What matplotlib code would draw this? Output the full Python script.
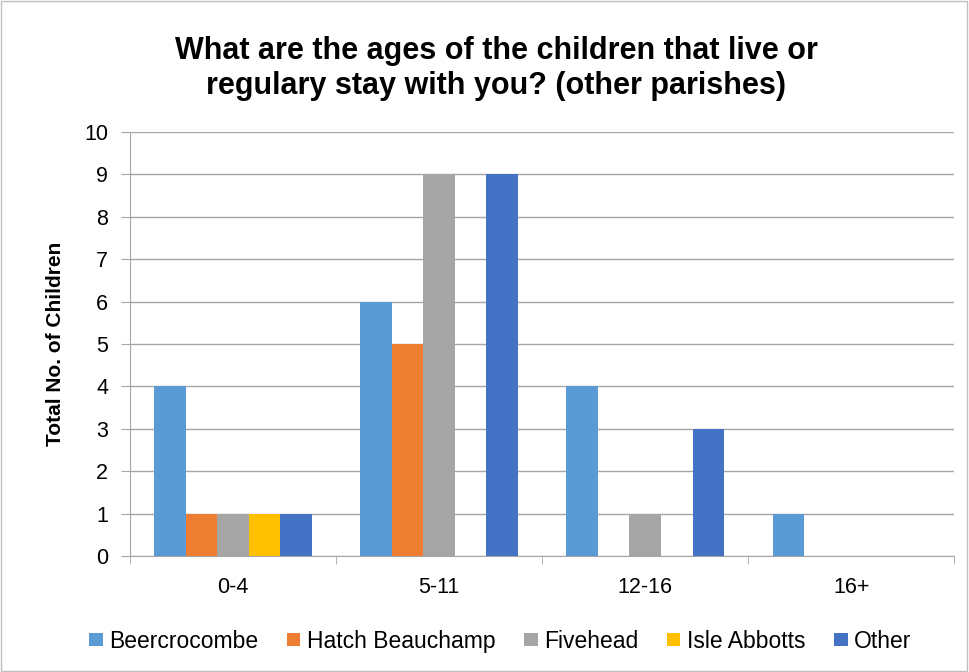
import numpy as np
import matplotlib.pyplot as plt
from matplotlib.patches import Rectangle

plt.rcParams['font.family'] = ['Liberation Sans', 'DejaVu Sans']

categories = ['0-4', '5-11', '12-16', '16+']
parishes = ['Beercrocombe', 'Hatch Beauchamp', 'Fivehead', 'Isle Abbotts', 'Other']
beercrocombe = [4, 6, 4, 1]
hatch_beauchamp = [1, 5, 0, 0]
fivehead = [1, 9, 1, 0]
isle_abbotts = [1, 0, 0, 0]
other = [1, 9, 3, 0]

series = [beercrocombe, hatch_beauchamp, fivehead, isle_abbotts, other]
colors = ['#5B9BD5', '#ED7D31', '#A5A5A5', '#FFC000', '#4472C4']

fig = plt.figure(figsize=(9.69, 6.72), dpi=100)
ax = fig.add_axes([0.134, 0.1726, 0.851, 0.631])

x = np.arange(len(categories))
w = 0.153
for i, (vals, c, name) in enumerate(zip(series, colors, parishes)):
    ax.bar(x + (i - 2) * w, vals, width=w, color=c, label=name, zorder=3)

ax.set_xlim(-0.5, len(categories) - 0.5)
ax.set_ylim(0, 10)
ax.set_yticks(range(0, 11))
ax.set_xticks(x)
ax.set_xticklabels(categories)
ax.set_xticks(np.arange(-0.5, len(categories)), minor=True)
ax.tick_params(axis='x', which='major', length=0, pad=15, labelsize=15.5)
ax.tick_params(axis='x', which='minor', length=6, color='#A6A6A6')
ax.tick_params(axis='y', length=6.5, color='#A6A6A6', labelsize=15.5, pad=9)
ax.grid(axis='y', color='#A6A6A6', linewidth=1, zorder=0)
for s in ['top', 'right']:
    ax.spines[s].set_visible(False)
ax.spines['left'].set_color('#A6A6A6')
ax.spines['bottom'].set_color('#A6A6A6')

ax.set_ylabel('Total No. of Children', fontsize=15, fontweight='bold', labelpad=14)
fig.suptitle('What are the ages of the children that live or\nregulary stay with you? (other parishes)',
             fontsize=22, fontweight='bold', x=0.512, y=0.947, linespacing=1.24)

fig.legend(loc='center', bbox_to_anchor=(0.516, 0.046), ncol=5, frameon=False,
           fontsize=16.5, handlelength=0.6, handleheight=0.55, handletextpad=0.27,
           columnspacing=1.25)

fig.patches.append(Rectangle((0.001, 0.001), 0.997, 0.997, transform=fig.transFigure,
                             fill=False, edgecolor='#BFBFBF', linewidth=1))

plt.savefig('out.png', dpi=100)
plt.close()
